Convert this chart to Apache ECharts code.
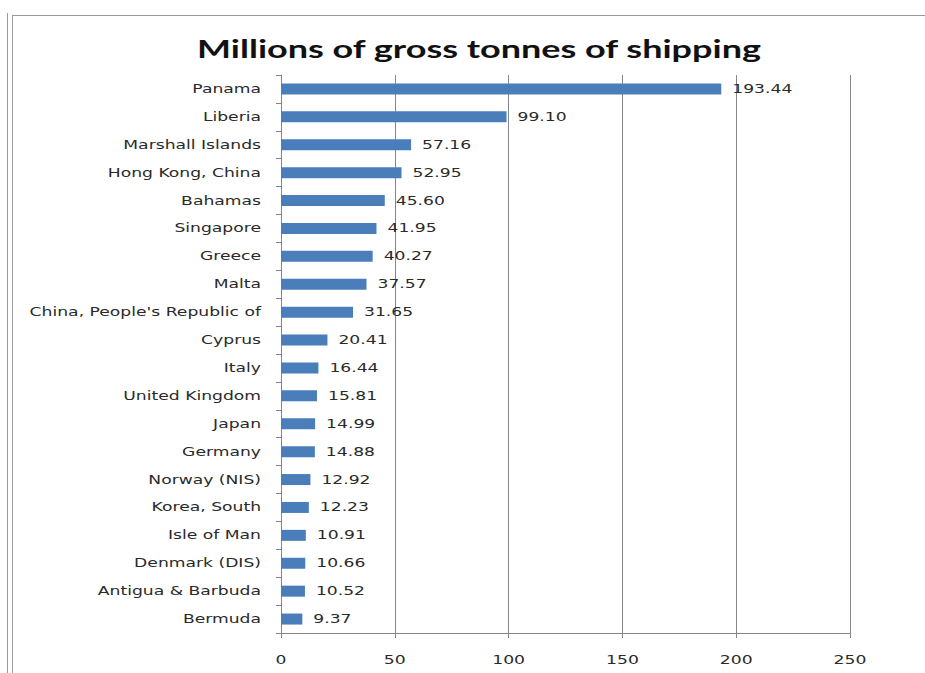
<!DOCTYPE html>
<html>
<head>
<meta charset="utf-8">
<script src="https://cdn.jsdelivr.net/npm/echarts@6/dist/echarts.min.js"></script>
<style>
  html, body { margin: 0; padding: 0; background: #fff; }
  #chart { width: 925px; height: 673px; }
</style>
</head>
<body>
<div id="chart"></div>
<script>
// Registered fleet size by flag state, top first
const countries = [
  'Panama', 'Liberia', 'Marshall Islands', 'Hong Kong, China', 'Bahamas',
  'Singapore', 'Greece', 'Malta', "China, People's Republic of", 'Cyprus',
  'Italy', 'United Kingdom', 'Japan', 'Germany', 'Norway (NIS)',
  'Korea, South', 'Isle of Man', 'Denmark (DIS)', 'Antigua & Barbuda', 'Bermuda'
];
const tonnes = [
  193.44, 99.10, 57.16, 52.95, 45.60,
  41.95, 40.27, 37.57, 31.65, 20.41,
  16.44, 15.81, 14.99, 14.88, 12.92,
  12.23, 10.91, 10.66, 10.52, 9.37
];
const xTicks = [0, 50, 100, 150, 200, 250];

const chart = echarts.init(document.getElementById('chart'), null, { renderer: 'svg' });
const axisGray = '#868686';
const labelFont = 'DejaVu Sans';

chart.setOption({
  animation: false,
  backgroundColor: '#ffffff',
  title: {
    text: 'Millions of gross tonnes of shipping',
    left: 474,
    top: 30,
    textAlign: 'center',
    textStyle: { fontFamily: 'Lato', fontWeight: 'bold', fontSize: 25, color: '#111' }
  },
  graphic: [
    { type: 'line', shape: { x1: 7.5, y1: 13, x2: 7.5, y2: 673 }, style: { stroke: '#9a9a9a', lineWidth: 1 } },
    { type: 'line', shape: { x1: 12.5, y1: 15, x2: 12.5, y2: 673 }, style: { stroke: '#9a9a9a', lineWidth: 1 } },
    { type: 'line', shape: { x1: 12, y1: 15.5, x2: 925, y2: 15.5 }, style: { stroke: '#9a9a9a', lineWidth: 1 } }
  ],
  grid: { left: 281, right: 75, top: 75, bottom: 40, containLabel: false },
  xAxis: {
    type: 'value',
    min: xTicks[0],
    max: xTicks[xTicks.length - 1],
    interval: 50,
    axisLine: { show: true, lineStyle: { color: axisGray, width: 1 } },
    axisTick: { show: true, length: 5, lineStyle: { color: axisGray } },
    splitLine: { show: true, lineStyle: { color: axisGray, width: 1 } },
    axisLabel: { margin: 21, fontFamily: labelFont, fontSize: 12, color: '#2a2a2a' }
  },
  yAxis: {
    type: 'category',
    data: countries,
    inverse: true,
    axisLine: { show: true, lineStyle: { color: axisGray, width: 1 } },
    axisTick: { show: true, length: 5, alignWithLabel: false, lineStyle: { color: axisGray } },
    axisLabel: { interval: 0, margin: 20, fontFamily: labelFont, fontSize: 12, color: '#2a2a2a' }
  },
  series: [{
    type: 'bar',
    data: tonnes,
    barWidth: 11,
    itemStyle: { color: '#4a7ebb' },
    label: {
      show: true,
      position: 'right',
      distance: 11,
      fontFamily: labelFont,
      fontSize: 12,
      color: '#2a2a2a',
      formatter: p => p.value.toFixed(2)
    }
  }]
});

// Widen the lettering horizontally (broad, stretched type face look)
function widenText() {
  document.querySelectorAll('#chart svg text').forEach(t => {
    t.removeAttribute('textLength');
    t.removeAttribute('lengthAdjust');
    const w = t.getComputedTextLength();
    if (!w) return;
    const factor = /Lato/.test(t.getAttribute('style') || '') ? 1.44 : 1.43;
    t.setAttribute('textLength', (w * factor).toFixed(1));
    t.setAttribute('lengthAdjust', 'spacingAndGlyphs');
  });
}
chart.on('finished', widenText);
widenText();
setTimeout(widenText, 50);
</script>
</body>
</html>
